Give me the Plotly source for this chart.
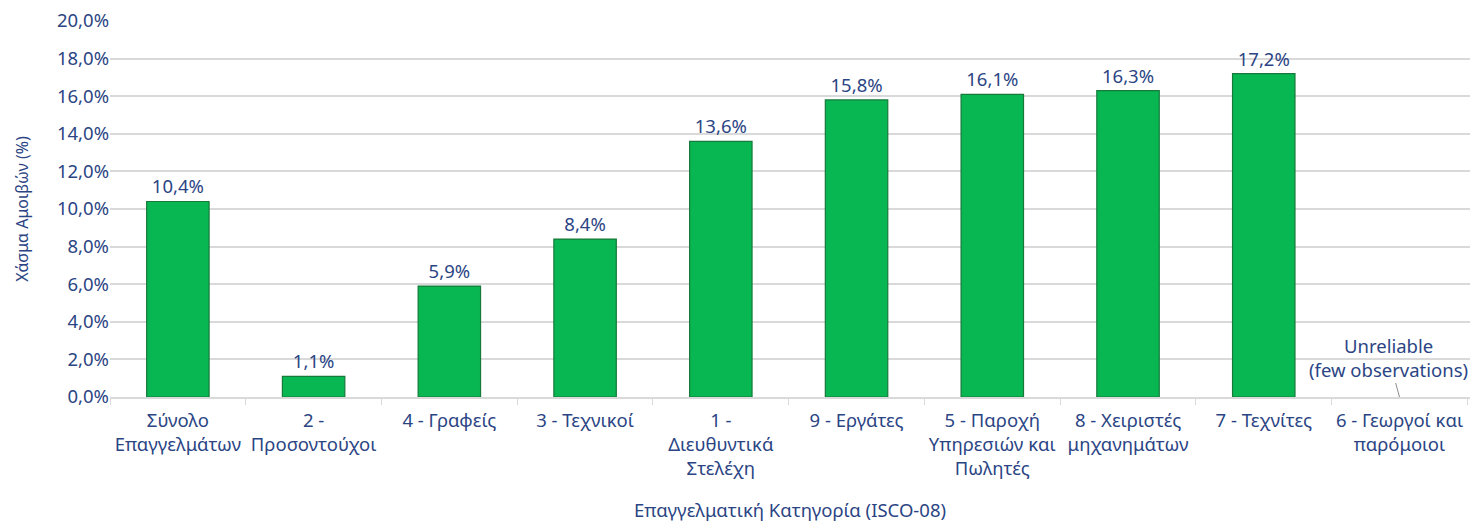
import plotly.graph_objects as go

categories = ["Σύνολο<br>Επαγγελμάτων", "2 -<br>Προσοντούχοι", "4 - Γραφείς", "3 - Τεχνικοί",
              "1 -<br>Διευθυντικά<br>Στελέχη", "9 - Εργάτες", "5 - Παροχή<br>Υπηρεσιών και<br>Πωλητές",
              "8 - Χειριστές<br>μηχανημάτων", "7 - Τεχνίτες", "6 - Γεωργοί και<br>παρόμοιοι"]
values = [10.4, 1.1, 5.9, 8.4, 13.6, 15.8, 16.1, 16.3, 17.2, None]
tick_vals = [0, 2, 4, 6, 8, 10, 12, 14, 16, 18, 20]
tick_text = [f"{v:.1f}%".replace(".", ",") for v in tick_vals]

TXT = "#2B4584"
FONT = "Noto Sans"
FS = 18.5

fig = go.Figure()
fig.add_trace(go.Bar(
    x=categories, y=values,
    marker=dict(color="#08B652", line=dict(color="#167A3A", width=1.2)),
    texttemplate="%{y:.1f}%", textposition="outside",
    textfont=dict(color=TXT, size=FS, family=FONT),
    cliponaxis=False,
))
fig.add_annotation(x=categories[9], y=0, xref="x", yref="y",
                   text="Unreliable<br>(few observations)",
                   showarrow=True, arrowhead=0, arrowwidth=1, arrowcolor="#8C8C8C",
                   ax=-11, ay=-40, standoff=0, startstandoff=0,
                   font=dict(color=TXT, size=FS, family=FONT))
fig.update_layout(
    width=1472, height=522,
    margin=dict(l=110, r=2, t=21, b=125),
    paper_bgcolor="white", plot_bgcolor="white",
    separators=",.",
    bargap=0.54,
    showlegend=False,
    font=dict(family=FONT, color=TXT, size=FS),
)
fig.update_yaxes(range=[0, 20], tickmode="array", tickvals=tick_vals, ticktext=tick_text,
                 showgrid=True, gridcolor="#D9D9D9", gridwidth=1.5, zeroline=False,
                 showline=False, ticks="", ticklen=0, automargin=False,
                 tickfont=dict(size=FS, color=TXT, family=FONT),
                 title=dict(text="Χάσμα Αμοιβών (%)", font=dict(size=16, color=TXT, family=FONT), standoff=24))
fig.update_xaxes(showline=True, linecolor="#D9D9D9", linewidth=1.5, automargin=False,
                 ticks="outside", tickson="boundaries", ticklen=6, tickcolor="#D9D9D9",
                 ticklabelstandoff=6,
                 tickangle=0, tickfont=dict(size=FS, color=TXT, family=FONT),
                 title=dict(text="Επαγγελματική Κατηγορία (ISCO-08)", font=dict(size=FS, color=TXT, family=FONT), standoff=32))
fig.write_html("out.html", config={"displayModeBar": False},
               post_script="document.body.style.margin='0';")
